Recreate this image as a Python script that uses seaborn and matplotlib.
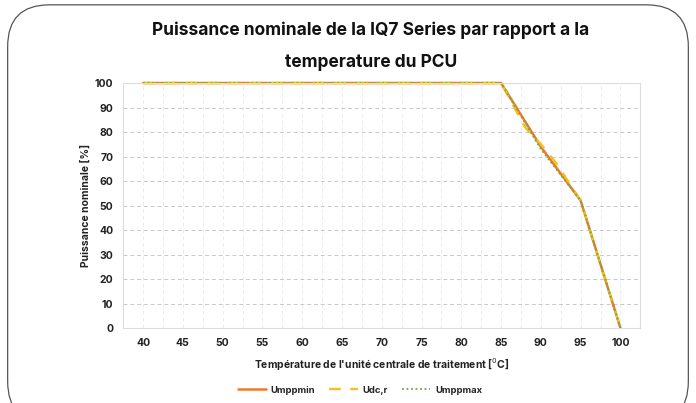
import matplotlib.pyplot as plt
import pandas as pd
import seaborn as sns
from matplotlib.patches import FancyBboxPatch

# Données
temp_min = [40, 85, 90, 95, 100]
puiss_min = [100, 100, 74, 52, 0]

temp_dcr = [40, 85, 88, 90, 92, 95, 100]
puiss_dcr = [100, 100, 82, 75, 67, 52, 0]

temp_max = [40, 85, 90, 95, 100]
puiss_max = [100, 100, 73, 52, 0]

x_ticks = [40, 45, 50, 55, 60, 65, 70, 75, 80, 85, 90, 95, 100]
y_ticks = [0, 10, 20, 30, 40, 50, 60, 70, 80, 90, 100]

df_min = pd.DataFrame({"temp": temp_min, "puissance": puiss_min})
df_dcr = pd.DataFrame({"temp": temp_dcr, "puissance": puiss_dcr})
df_max = pd.DataFrame({"temp": temp_max, "puissance": puiss_max})

sns.set_theme(style="white")
plt.rcParams["font.family"] = ["Inter", "DejaVu Sans"]

fig = plt.figure(figsize=(6.96, 4.03), dpi=100)
ax = fig.add_axes([0.177, 0.186, 0.743, 0.608])

# cadre arrondi autour de la figure
cadre = FancyBboxPatch((0.011, -0.05), 0.978, 1.038, boxstyle="round,pad=0,rounding_size=0.06",
                       transform=fig.transFigure, fill=False, edgecolor="#555555", linewidth=0.9,
                       mutation_aspect=696 / 403)
fig.patches.append(cadre)

sns.lineplot(data=df_min, x="temp", y="puissance", ax=ax, color="#f07a2c",
             linewidth=1.8, label="Umppmin", clip_on=False)
sns.lineplot(data=df_dcr, x="temp", y="puissance", ax=ax, color="#f6bf1d",
             linewidth=1.7, linestyle=(0, (5, 4)), label="Udc,r", clip_on=False)
sns.lineplot(data=df_max, x="temp", y="puissance", ax=ax, color="#6aaa45",
             linewidth=1.3, linestyle=(0, (1, 1.5)), label="Umppmax", clip_on=False)

ax.set_xlim(37.5, 102.5)
ax.set_ylim(0, 100)
ax.set_xticks(x_ticks)
ax.set_xticklabels([str(v) for v in x_ticks], fontweight="bold", fontsize=7.5)
ax.set_yticks(y_ticks)
ax.set_yticklabels([str(v) for v in y_ticks], fontweight="bold", fontsize=7.5)
ax.set_xticks([x + 2.5 for x in range(35, 101, 5)], minor=True)

ax.grid(axis="y", which="major", color="#c8c8c8", linestyle=(0, (4, 3)), linewidth=0.7)
ax.grid(axis="x", which="both", color="#ececec", linestyle=(0, (4, 3)), linewidth=0.7)
ax.set_axisbelow(True)

for s in ax.spines.values():
    s.set_color("#dddddd")
    s.set_linewidth(0.8)

ax.tick_params(axis="both", which="both", length=0, pad=7, colors="#222222")

ax.set_xlabel("Température de l'unité centrale de traitement [$^{0}$C]", fontsize=7.5,
              fontweight="bold", color="#222222", labelpad=6)
ax.set_ylabel("Puissance nominale [%]", fontsize=7.5, fontweight="bold", color="#222222", labelpad=3)

fig.text(0.533, 0.925, "Puissance nominale de la IQ7 Series par rapport a la",
         ha="center", va="center", fontsize=12.5, fontweight="bold", color="#111111")
fig.text(0.533, 0.845, "temperature du PCU",
         ha="center", va="center", fontsize=12.5, fontweight="bold", color="#111111")

leg = ax.legend(loc="center", bbox_to_anchor=(0.517, 0.032), bbox_transform=fig.transFigure,
                ncol=3, frameon=False, fontsize=6.8, handlelength=3, columnspacing=1.5,
                handletextpad=0.5)
for t in leg.get_texts():
    t.set_fontweight("bold")

fig.savefig("out.png", dpi=100)
